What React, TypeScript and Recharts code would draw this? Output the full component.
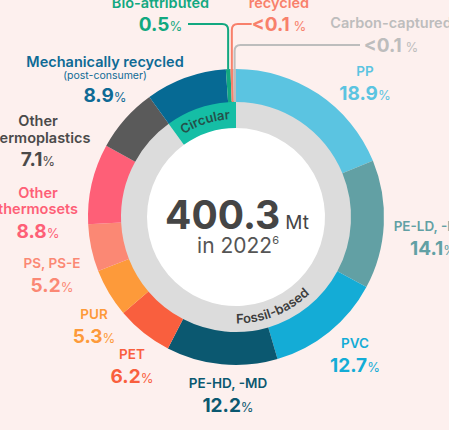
import { PieChart, Pie, Cell } from "recharts";

const MATERIALS = [
  "PP",
  "PE-LD, -LLD",
  "PVC",
  "PE-HD, -MD",
  "PET",
  "PUR",
  "PS, PS-E",
  "Other thermosets",
  "Other thermoplastics",
  "Mechanically recycled",
  "Bio-attributed",
  "Chemically recycled",
  "Carbon-captured",
];
// shares in % (the two "<0.1" slivers are drawn at the width they have in the picture)
const SHARES = [18.9, 14.1, 12.7, 12.2, 6.2, 5.3, 5.2, 8.8, 7.1, 8.9, 0.5, 0.3, 0.3];
const SHARE_TEXT = ["18.9", "14.1", "12.7", "12.2", "6.2", "5.3", "5.2", "8.8", "7.1", "8.9", "0.5", "<0.1", "<0.1"];
const NAME_LINES = [
  ["PP"],
  ["PE-LD, -LLD"],
  ["PVC"],
  ["PE-HD, -MD"],
  ["PET"],
  ["PUR"],
  ["PS, PS-E"],
  ["Other", "thermosets"],
  ["Other", "thermoplastics"],
  ["Mechanically recycled"],
  ["Bio-attributed"],
  ["Chemically", "recycled"],
  ["Carbon-captured"],
];
const SUBTITLES = ["", "", "", "", "", "", "", "", "", "(post-consumer)", "", "", ""];

const ORIGINS = ["Fossil-based", "Circular"];
const ORIGIN_SHARES = [90.4, 10.0];

const COLORS = [
  "#5bc4e1", "#62a0a4", "#14acd6", "#0b5870", "#f95f3e", "#fd9a3a", "#fb8874",
  "#fe5f77", "#5a5a5a", "#066a94", "#12a880", "#f8806b", "#bdbdbd",
];
const TEXT_COLORS = [
  "#5bc4e1", "#62a0a4", "#14acd6", "#0b5870", "#f95f3e", "#fd9a3a", "#fb8874",
  "#fe5f77", "#4a4a4a", "#0e6a95", "#12a880", "#f8806b", "#bdbdbd",
];
const ORIGIN_COLORS = ["#dcdcdc", "#15bea5"];

// label block anchors relative to the pie centre: [x centre, first baseline]
const LABEL_POS: Record<number, [number, number]> = {
  0: [129, -141], 1: [197, 14], 2: [119, 131], 3: [-8, 171], 4: [-104, 142],
  5: [-142, 102], 6: [-184, 51], 7: [-198, -19.5], 8: [-198, -91], 9: [-131, -150],
  10: [-75.5, -209.5], 11: [43, -226], 12: [155, -189],
};
// leader lines for the slivers: [horizontal y, end x] relative to centre
const LEADERS: Record<number, [number, number]> = {
  10: [-193, -48],
  11: [-193, 15.7],
  12: [-172, 124],
};

const FONT = "Inter, sans-serif";
const RADIAN = Math.PI / 180;
const CX = 231;
const CY = 212;

function OuterLabel(props: any) {
  const { cx, cy, midAngle, outerRadius, index } = props;
  const [dx, dy] = LABEL_POS[index];
  const x = cx + dx;
  const color = TEXT_COLORS[index];
  const big = index >= 7;
  let y = cy + dy;
  const lines = NAME_LINES[index].map((t, i) => {
    const el = (
      <text key={"n" + i} x={x} y={y} textAnchor="middle" fill={color} fontSize={big ? 14.5 : 13.5} fontWeight={600} fontFamily={FONT}>
        {t}
      </text>
    );
    y += 16.5;
    return el;
  });
  y -= 16.5;
  let sub = null;
  if (SUBTITLES[index]) {
    y += 11.5;
    sub = (
      <text x={x} y={y} textAnchor="middle" fill={color} fontSize={10.5} fontFamily={FONT}>
        {SUBTITLES[index]}
      </text>
    );
  }
  y += 23.5;
  const lt = SHARE_TEXT[index].startsWith("<");
  let leader = null;
  if (LEADERS[index]) {
    const [hy, ex] = LEADERS[index];
    const sx = cx + outerRadius * Math.cos(-midAngle * RADIAN);
    const sy = cy + outerRadius * Math.sin(-midAngle * RADIAN);
    const yy = cy + hy;
    const exx = cx + ex;
    const r = 6;
    const dir = exx > sx ? 1 : -1;
    leader = (
      <path
        d={`M${sx},${sy} L${sx},${yy + r} Q${sx},${yy} ${sx + dir * r},${yy} L${exx},${yy}`}
        fill="none"
        stroke={COLORS[index]}
        strokeWidth={2}
      />
    );
  }
  return (
    <g>
      {leader}
      {lines}
      {sub}
      <text x={x} y={y} textAnchor="middle" fill={color} fontFamily={FONT}>
        <tspan fontSize={19} fontWeight={700}>{SHARE_TEXT[index]}</tspan>
        <tspan fontSize={13} fontWeight={400}>{lt ? " %" : "%"}</tspan>
      </text>
    </g>
  );
}

function RingLabel(props: any) {
  const { cx, cy, midAngle, index } = props;
  const top = index === 1;
  const mid = top ? midAngle : midAngle + 4;
  const r = top ? 98 : 106.5;
  const span = 45;
  const a1 = top ? mid + span : mid - span;
  const a2 = top ? mid - span : mid + span;
  const p1 = [cx + r * Math.cos(a1 * RADIAN), cy - r * Math.sin(a1 * RADIAN)];
  const p2 = [cx + r * Math.cos(a2 * RADIAN), cy - r * Math.sin(a2 * RADIAN)];
  const id = "ring-arc-" + index;
  return (
    <g>
      <path id={id} d={`M${p1[0]},${p1[1]} A${r},${r} 0 0 ${top ? 1 : 0} ${p2[0]},${p2[1]}`} fill="none" />
      <text fill={top ? "#24514a" : "#3d3d3d"} fontSize={13} fontWeight={600} fontFamily={FONT}>
        <textPath href={"#" + id} startOffset="50%" textAnchor="middle">
          {ORIGINS[index]}
        </textPath>
      </text>
    </g>
  );
}

function CenterLabel(props: any) {
  const { cx, cy } = props;
  return (
    <g fontFamily={FONT}>
      <text x={cx + 1} y={cy + 12} textAnchor="middle" fill="#454545">
        <tspan fontSize={39} fontWeight={700}>400.3</tspan>
        <tspan fontSize={19} dx={5}>Mt</tspan>
      </text>
      <text x={cx + 2} y={cy + 36} textAnchor="middle" fill="#555">
        <tspan fontSize={21}>in 2022</tspan>
        <tspan fontSize={11} dy={-9}>6</tspan>
      </text>
    </g>
  );
}

export default function App() {
  const data = MATERIALS.map((name, i) => ({ name, value: SHARES[i] }));
  const origins = ORIGINS.map((name, i) => ({ name, value: ORIGIN_SHARES[i] }));
  const center = [{ name: "total", value: 400.3 }];

  return (
    <div style={{ position: "absolute", left: 0, top: 0, width: 449, height: 430, background: "#fdf0ee", overflow: "hidden" }}>
      <PieChart width={449} height={430}>
        <Pie data={center} dataKey="value" cx={CX} cy={CY} innerRadius={0} outerRadius={90} fill="#ffffff" stroke="none"
          isAnimationActive={false} labelLine={false} label={CenterLabel} />
        <Pie data={origins} dataKey="value" cx={CX} cy={CY} innerRadius={89} outerRadius={116} startAngle={90} endAngle={-270}
          stroke="none" isAnimationActive={false} labelLine={false} label={RingLabel}>
          {origins.map((d, i) => <Cell key={d.name} fill={ORIGIN_COLORS[i]} />)}
        </Pie>
        <Pie data={data} dataKey="value" cx={CX} cy={CY} innerRadius={115} outerRadius={148} startAngle={90} endAngle={-270}
          stroke="none" isAnimationActive={false} labelLine={false} label={OuterLabel}>
          {data.map((d, i) => <Cell key={d.name} fill={COLORS[i]} />)}
        </Pie>
      </PieChart>
    </div>
  );
}
